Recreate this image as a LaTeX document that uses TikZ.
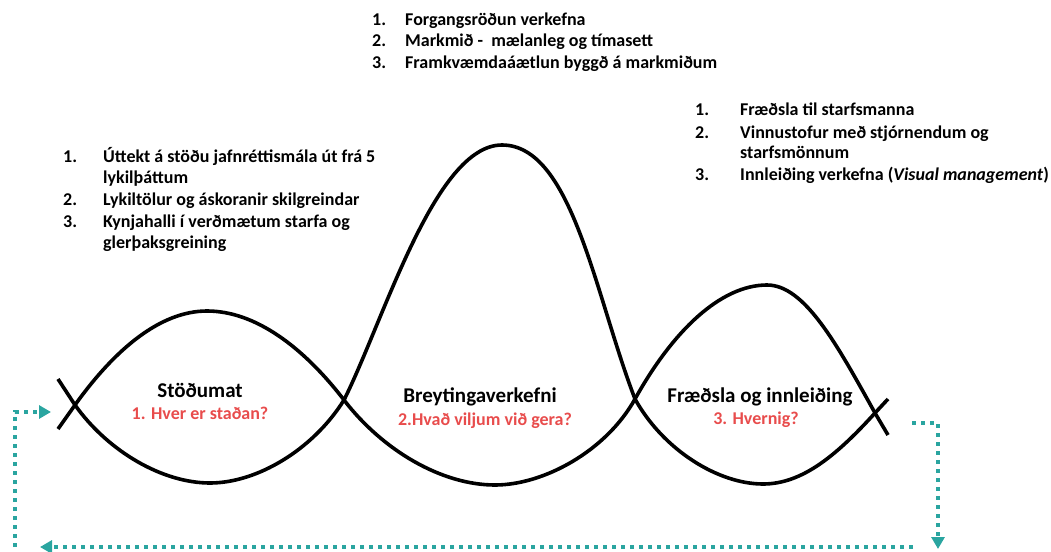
\documentclass[tikz,border=0pt]{standalone}
\usepackage{fontspec}
\setmainfont{Carlito}
\usetikzlibrary{arrows.meta}
\definecolor{loopteal}{RGB}{42,165,160}
\definecolor{qred}{RGB}{232,76,76}
\begin{document}
\begin{tikzpicture}[x=1pt,y=-1pt,
  wave/.style={line width=3.6pt, black},
  lst/.style={font=\fontsize{18}{21}\selectfont\bfseries, anchor=base west, inner sep=0pt},
  lbl/.style={font=\fontsize{21}{24}\selectfont\bfseries, anchor=base, inner sep=0pt},
  qst/.style={font=\fontsize{18}{21}\selectfont\bfseries, text=qred, anchor=base, inner sep=0pt},
  loopline/.style={loopteal, line width=4pt, dash pattern=on 4pt off 5pt},
  looptip/.style={-{Triangle[length=12pt,width=13pt]}}]
\useasboundingbox (0,0) rectangle (1051,551);

% waves
\draw[wave] (58,429) -- (75,405)
  .. controls (115.3,348.6) and (160.8,311) .. (207,311)
  .. controls (255,311) and (302.9,346.6) .. (344,400)
  .. controls (383.2,451) and (442.1,485) .. (495,485)
  .. controls (544,485) and (606.3,450.7) .. (635,399)
  .. controls (673,330.6) and (720.8,285) .. (767,285)
  .. controls (804.8,285) and (837.2,345) .. (875,413)
  -- (888,435);
\draw[wave] (58,379) -- (75,405)
  .. controls (108.4,451.8) and (162.75,483) .. (210,483)
  .. controls (256.9,483) and (312.9,449.8) .. (344,400)
  .. controls (384,320) and (435,145) .. (502,145)
  .. controls (572,145) and (595,295) .. (635,399)
  .. controls (663.3,450) and (718.2,484) .. (763,484)
  .. controls (802.2,484) and (836.3,455.6) .. (875,413)
  -- (888,399);

% phase labels
\node[lbl] (s1) at (200,397) {Stöðumat};
\node[qst] (q1) at (200,419) {1. Hver er staðan?};
\node[lbl] (s2) at (480,402) {Breytingaverkefni};
\node[qst] (q2) at (485,425) {2.Hvað viljum við gera?};
\node[lbl] (s3) at (760,402) {Fræðsla og innleiðing};
\node[qst] (q3) at (756,424) {3. Hvernig?};

% top list
\node[lst] (tn1) at (372,26) {1.};
\node[lst] (tt1) at (405,26) {Forgangsröðun verkefna};
\node[lst] (tn2) at (372,47) {2.};
\node[lst] (tt2) at (405,47) {Markmið -\ \ mælanleg og tímasett};
\node[lst] (tn3) at (372,68) {3.};
\node[lst] (tt3) at (405,68) {Framkvæmdaáætlun byggð á markmiðum};

% left list
\node[lst] (ln1) at (63,162) {1.};
\node[lst] (lt1) at (103,162) {Úttekt á stöðu jafnréttismála út frá 5};
\node[lst] (lt1b) at (103,183) {lykilþáttum};
\node[lst] (ln2) at (63,205) {2.};
\node[lst] (lt2) at (103,205) {Lykiltölur og áskoranir skilgreindar};
\node[lst] (ln3) at (63,227) {3.};
\node[lst] (lt3) at (103,227) {Kynjahalli í verðmætum starfa og};
\node[lst] (lt3b) at (103,248) {glerþaksgreining};

% right list
\node[lst] (rn1) at (695,115) {1.};
\node[lst] (rt1) at (740,115) {Fræðsla til starfsmanna};
\node[lst] (rn2) at (695,138) {2.};
\node[lst] (rt2) at (740,138) {Vinnustofur með stjórnendum og};
\node[lst] (rt2b) at (740,158) {starfsmönnum};
\node[lst] (rn3) at (695,180) {3.};
\node[lst] (rt3) at (740,180) {Innleiðing verkefna (\textit{Visual management})};

% feedback loop
\coordinate (la) at (15,547);
\coordinate (lb) at (15,412);
\coordinate (lc) at (51,412);
\coordinate (ra) at (912,423);
\coordinate (rb) at (938,423);
\coordinate (rc) at (938,549);
\coordinate (ba) at (913,547);
\coordinate (bb) at (40,547);
\draw[loopline, looptip] (la) -- (lb) -- (lc);
\draw[loopline, looptip] (ra) -- (rb) -- (rc);
\draw[loopline, looptip] (ba) -- (bb);
\end{tikzpicture}
\end{document}
